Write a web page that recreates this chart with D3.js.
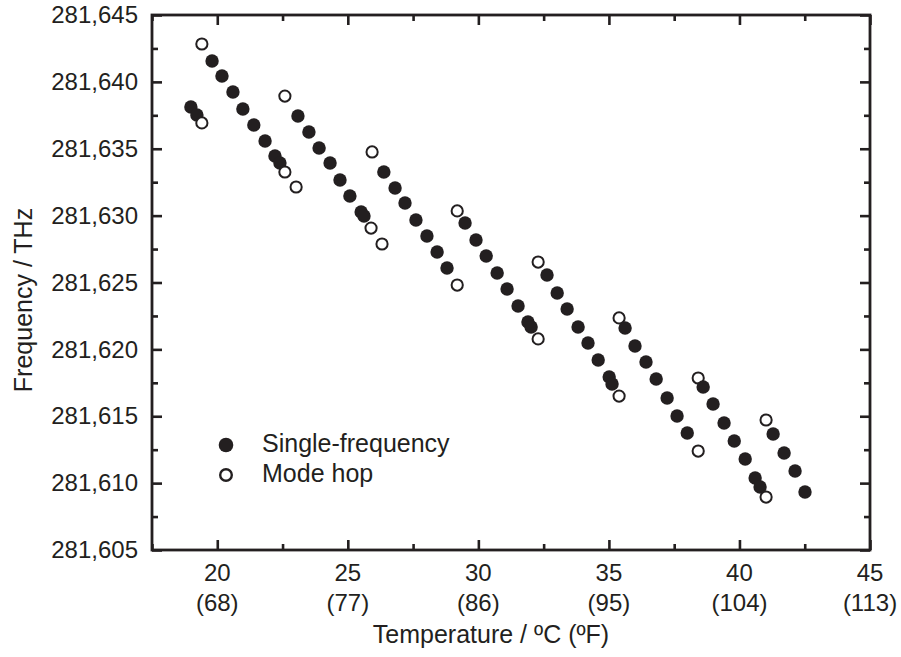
<!DOCTYPE html>
<html>
<head>
<meta charset="utf-8">
<script src="https://cdn.jsdelivr.net/npm/d3@7"></script>
<style>
  html, body { margin: 0; padding: 0; background: #fff; }
  svg { display: block; }
  text { font-family: "Liberation Sans", Arial, Helvetica, sans-serif; fill: #231f20; }
</style>
</head>
<body>
<svg id="chart" width="901" height="657"></svg>
<script>
// Laser frequency vs. temperature: single-frequency operation and mode-hop points
const singleTemp = [
  18.99, 19.22,
  19.80, 20.18, 20.60, 20.98, 21.40, 21.83, 22.21, 22.40,
  23.09, 23.51, 23.90, 24.32, 24.70, 25.08, 25.51, 25.62,
  26.38, 26.81, 27.19, 27.61, 28.03, 28.42, 28.80,
  29.49, 29.91, 30.30, 30.72, 31.10, 31.52, 31.90, 32.02,
  32.63, 33.02, 33.40, 33.82, 34.20, 34.59, 35.01, 35.12,
  35.62, 36.00, 36.42, 36.81, 37.23, 37.61, 38.00,
  38.61, 38.99, 39.41, 39.80, 40.22, 40.60, 40.79,
  41.29, 41.71, 42.13, 42.51
];
const singleFreq = [
  281638.12, 281637.52,
  281641.56, 281640.44, 281639.24, 281637.97, 281636.78, 281635.58, 281634.46, 281633.93,
  281637.45, 281636.25, 281635.06, 281633.93, 281632.66, 281631.47, 281630.27, 281629.97,
  281633.26, 281632.07, 281630.94, 281629.67, 281628.48, 281627.28, 281626.08,
  281629.45, 281628.18, 281626.98, 281625.71, 281624.51, 281623.24, 281622.05, 281621.67,
  281625.56, 281624.21, 281623.02, 281621.67, 281620.48, 281619.21, 281617.93, 281617.41,
  281621.60, 281620.25, 281619.06, 281617.79, 281616.36, 281615.02, 281613.75,
  281617.19, 281615.92, 281614.50, 281613.15, 281611.80, 281610.38, 281609.71,
  281613.67, 281612.25, 281610.91, 281609.34
];
const hopTemp = [
  19.41, 19.41, 22.59, 22.59, 23.02, 25.93, 25.89, 26.31, 29.19, 29.19,
  32.29, 32.29, 35.39, 35.39, 38.42, 38.42, 41.02, 41.02
];
const hopFreq = [
  281642.83, 281636.93, 281638.94, 281633.26, 281632.14, 281634.76, 281629.07, 281627.88, 281630.35, 281624.81,
  281626.53, 281620.78, 281622.35, 281616.51, 281617.86, 281612.40, 281614.72, 281608.96
];

const xMajor = [20, 25, 30, 35, 40, 45];
const xMajorF = ["(68)", "(77)", "(86)", "(95)", "(104)", "(113)"];
const xMinor = [17.5, 22.5, 27.5, 32.5, 37.5, 42.5];
const yMajor = [281605, 281610, 281615, 281620, 281625, 281630, 281635, 281640, 281645];
const yMinor = [281607.5, 281612.5, 281617.5, 281622.5, 281627.5, 281632.5, 281637.5, 281642.5];
const legendNames = ["Single-frequency", "Mode hop"];

const ink = "#231f20";
const L = 152, R = 870, T = 15, B = 550;

const svg = d3.select("#chart");
const x = d3.scaleLinear().domain([17.5, 45]).range([L, R]);
const y = d3.scaleLinear().domain([281605, 281645]).range([B, T]);

const fmt = d3.format(",");

function styleAxis(g) {
  g.select(".domain").remove();
  g.selectAll(".tick line").attr("stroke", ink).attr("stroke-width", 2.6);
  g.selectAll(".tick text").attr("fill", ink).style("font-size", "24px")
    .style("font-family", '"Liberation Sans", Arial, sans-serif');
}

// major and minor ticks on all four sides, pointing inward
const majorLen = 10, minorLen = 6;
svg.append("g").attr("transform", `translate(0,${B})`)
  .call(d3.axisBottom(x).tickValues(xMajor).tickSizeInner(-majorLen).tickSizeOuter(0).tickFormat(""))
  .call(styleAxis);
svg.append("g").attr("transform", `translate(0,${B})`)
  .call(d3.axisBottom(x).tickValues(xMinor).tickSizeInner(-minorLen).tickSizeOuter(0).tickFormat(""))
  .call(styleAxis);
svg.append("g").attr("transform", `translate(0,${T})`)
  .call(d3.axisTop(x).tickValues(xMajor).tickSizeInner(-majorLen).tickSizeOuter(0).tickFormat(""))
  .call(styleAxis);
svg.append("g").attr("transform", `translate(0,${T})`)
  .call(d3.axisTop(x).tickValues(xMinor).tickSizeInner(-minorLen).tickSizeOuter(0).tickFormat(""))
  .call(styleAxis);
svg.append("g").attr("transform", `translate(${L},0)`)
  .call(d3.axisLeft(y).tickValues(yMajor).tickSizeInner(-majorLen).tickSizeOuter(0)
    .tickPadding(14).tickFormat(d => fmt(d)))
  .call(styleAxis);
svg.append("g").attr("transform", `translate(${L},0)`)
  .call(d3.axisLeft(y).tickValues(yMinor).tickSizeInner(-minorLen).tickSizeOuter(0).tickFormat(""))
  .call(styleAxis);
svg.append("g").attr("transform", `translate(${R},0)`)
  .call(d3.axisRight(y).tickValues(yMajor).tickSizeInner(-majorLen).tickSizeOuter(0).tickFormat(""))
  .call(styleAxis);
svg.append("g").attr("transform", `translate(${R},0)`)
  .call(d3.axisRight(y).tickValues(yMinor).tickSizeInner(-minorLen).tickSizeOuter(0).tickFormat(""))
  .call(styleAxis);

// plot frame
svg.append("rect")
  .attr("x", L).attr("y", T).attr("width", R - L).attr("height", B - T)
  .attr("fill", "none").attr("stroke", ink).attr("stroke-width", 2.8);

// x tick labels: Celsius with Fahrenheit below
const xl = svg.append("g").selectAll("text").data(xMajor).join("text")
  .attr("x", d => x(d)).attr("text-anchor", "middle").style("font-size", "24px");
xl.append("tspan").attr("x", d => x(d)).attr("y", B + 31).text(d => d);
xl.append("tspan").attr("x", d => x(d)).attr("y", B + 61).text((d, i) => xMajorF[i]);

// axis titles
svg.append("text").attr("x", 491).attr("y", 643).attr("text-anchor", "middle")
  .style("font-size", "25px").text("Temperature / ºC (ºF)");
svg.append("text").attr("transform", "translate(32,300) rotate(-90)").attr("text-anchor", "middle")
  .style("font-size", "25px").text("Frequency / THz");

// points, drawn in order of temperature so later ones overlap earlier ones
const points = singleTemp.map((t, i) => ({ t, f: singleFreq[i], hop: false }))
  .concat(hopTemp.map((t, i) => ({ t, f: hopFreq[i], hop: true })))
  .sort((a, b) => a.t - b.t);

svg.append("g").selectAll("circle").data(points).join("circle")
  .attr("cx", d => x(d.t)).attr("cy", d => y(d.f))
  .attr("r", d => d.hop ? 5.6 : 6.7)
  .attr("fill", d => d.hop ? "#fff" : ink)
  .attr("stroke", d => d.hop ? ink : "none")
  .attr("stroke-width", 2);

// legend
const lg = svg.append("g");
lg.append("circle").attr("cx", 226).attr("cy", 445).attr("r", 7.3).attr("fill", ink);
lg.append("circle").attr("cx", 226).attr("cy", 475).attr("r", 5.8).attr("fill", "#fff")
  .attr("stroke", ink).attr("stroke-width", 2.4);
lg.selectAll("text").data(legendNames).join("text")
  .attr("x", 262).attr("y", (d, i) => 452 + i * 30)
  .style("font-size", "25px").text(d => d);
</script>
</body>
</html>
